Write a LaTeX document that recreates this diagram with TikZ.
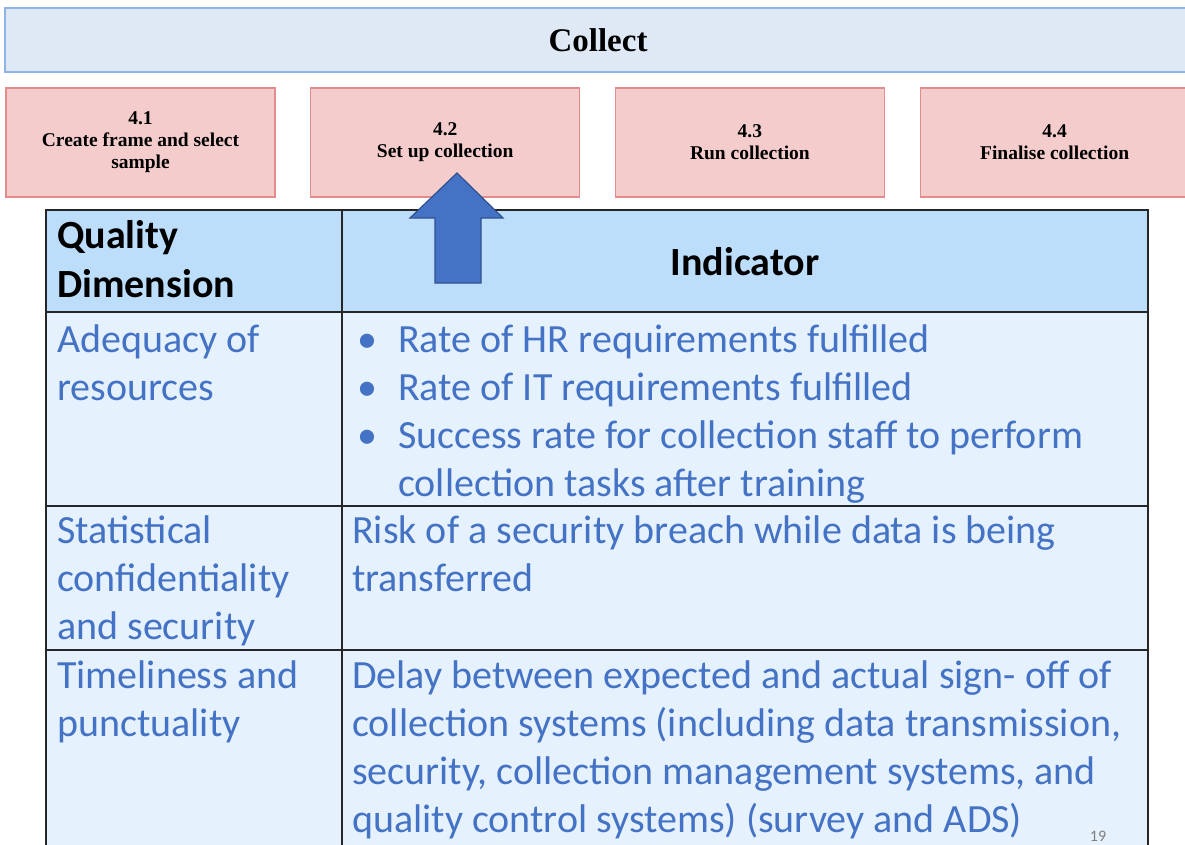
\documentclass[tikz,border=0pt]{standalone}
\usepackage{fontspec}
\setmainfont{Carlito}
\newfontfamily\tnr{Liberation Serif}
\usepackage{tikz}
\usetikzlibrary{positioning}

\definecolor{barfill}{RGB}{222,233,245}
\definecolor{barline}{RGB}{141,180,226}
\definecolor{stepfill}{RGB}{244,204,204}
\definecolor{stepline}{RGB}{226,140,142}
\definecolor{headfill}{RGB}{189,222,251}
\definecolor{bodyfill}{RGB}{229,241,253}
\definecolor{txtblue}{RGB}{68,114,196}
\definecolor{arrowline}{RGB}{47,82,143}

\begin{document}
\begin{tikzpicture}[x=1pt,y=-1pt,
  stepbox/.style={draw=stepline,fill=stepfill,line width=1.2pt,minimum width=269pt,minimum height=109pt,
    align=center,inner sep=0pt,font=\tnr\bfseries\fontsize{19.5}{22}\selectfont},
  cell/.style={anchor=base west,inner sep=0pt,align=left,text=txtblue,font=\fontsize{40}{48}\selectfont},
  headcell/.style={anchor=base west,inner sep=0pt,align=left,font=\bfseries\fontsize{40}{49}\selectfont},
  grid/.style={line width=1.8pt,color=black!85}]
\useasboundingbox (0,0) rectangle (1185,844);

% phase bar and sub-processes
\draw[draw=barline,fill=barfill,line width=1.5pt] (5,8) rectangle (1190,72);
\draw (598,40) node[font=\tnr\bfseries\fontsize{33}{36}\selectfont] (collect) {Collect};

\draw (140.5,142.5) node[stepbox] (s1) {4.1\\Create frame and select\\sample};
\node[stepbox,right=34.5pt of s1] (s2) {4.2\\Set up collection};
\node[stepbox,right=34.5pt of s2] (s3) {4.3\\Run collection};
\node[stepbox,right=34.5pt of s3] (s4) {4.4\\Finalise collection};

% table (cells placed by the baseline of their last line)
\fill[headfill] (46,210) rectangle (1148,312);
\fill[bodyfill] (46,312) rectangle (1148,850);
\draw[grid] (46,850) -- (46,210) -- (1148,210) -- (1148,850);
\draw[grid] (342,210) -- (342,850);
\draw[grid] (46,312) -- (1148,312);
\draw[grid] (46,506) -- (1148,506);
\draw[grid] (46,650) -- (1148,650);

\draw (57,297) node[headcell] (qd) {Quality\\Dimension};
\draw (745,275) node[headcell,anchor=base,align=center] (ind) {Indicator};

\draw (57,400) node[cell] (dim1) {Adequacy of\\resources};
\draw (57,639) node[cell] (dim2) {Statistical\\confidentiality\\and security};
\draw (57,736) node[cell] (dim3) {Timeliness and\\punctuality};

\draw (357,496) node[cell] (ind1) {\makebox[41pt][l]{\textbullet}Rate of HR requirements fulfilled\\
  \makebox[41pt][l]{\textbullet}Rate of IT requirements fulfilled\\
  \makebox[41pt][l]{\textbullet}Success rate for collection staff to perform\\
  \hspace*{41pt}collection tasks after training};
\draw (352,591) node[cell] (ind2) {Risk of a security breach while data is being\\transferred};
\draw (352,832) node[cell] (ind3) {Delay between expected and actual sign- off of\\
  collection systems (including data transmission,\\
  security, collection management systems, and\\
  quality control systems) (survey and ADS)};

% arrow pointing at 4.2
\draw[fill=txtblue,draw=arrowline,line width=1.2pt]
  (457,173) -- (503,218) -- (481,218) -- (481,283) -- (435,283) -- (435,218) -- (410,218) -- cycle;

\draw (1098,836) node[text=black!50,font=\fontsize{16}{18}\selectfont] (pg) {19};
\end{tikzpicture}
\end{document}
